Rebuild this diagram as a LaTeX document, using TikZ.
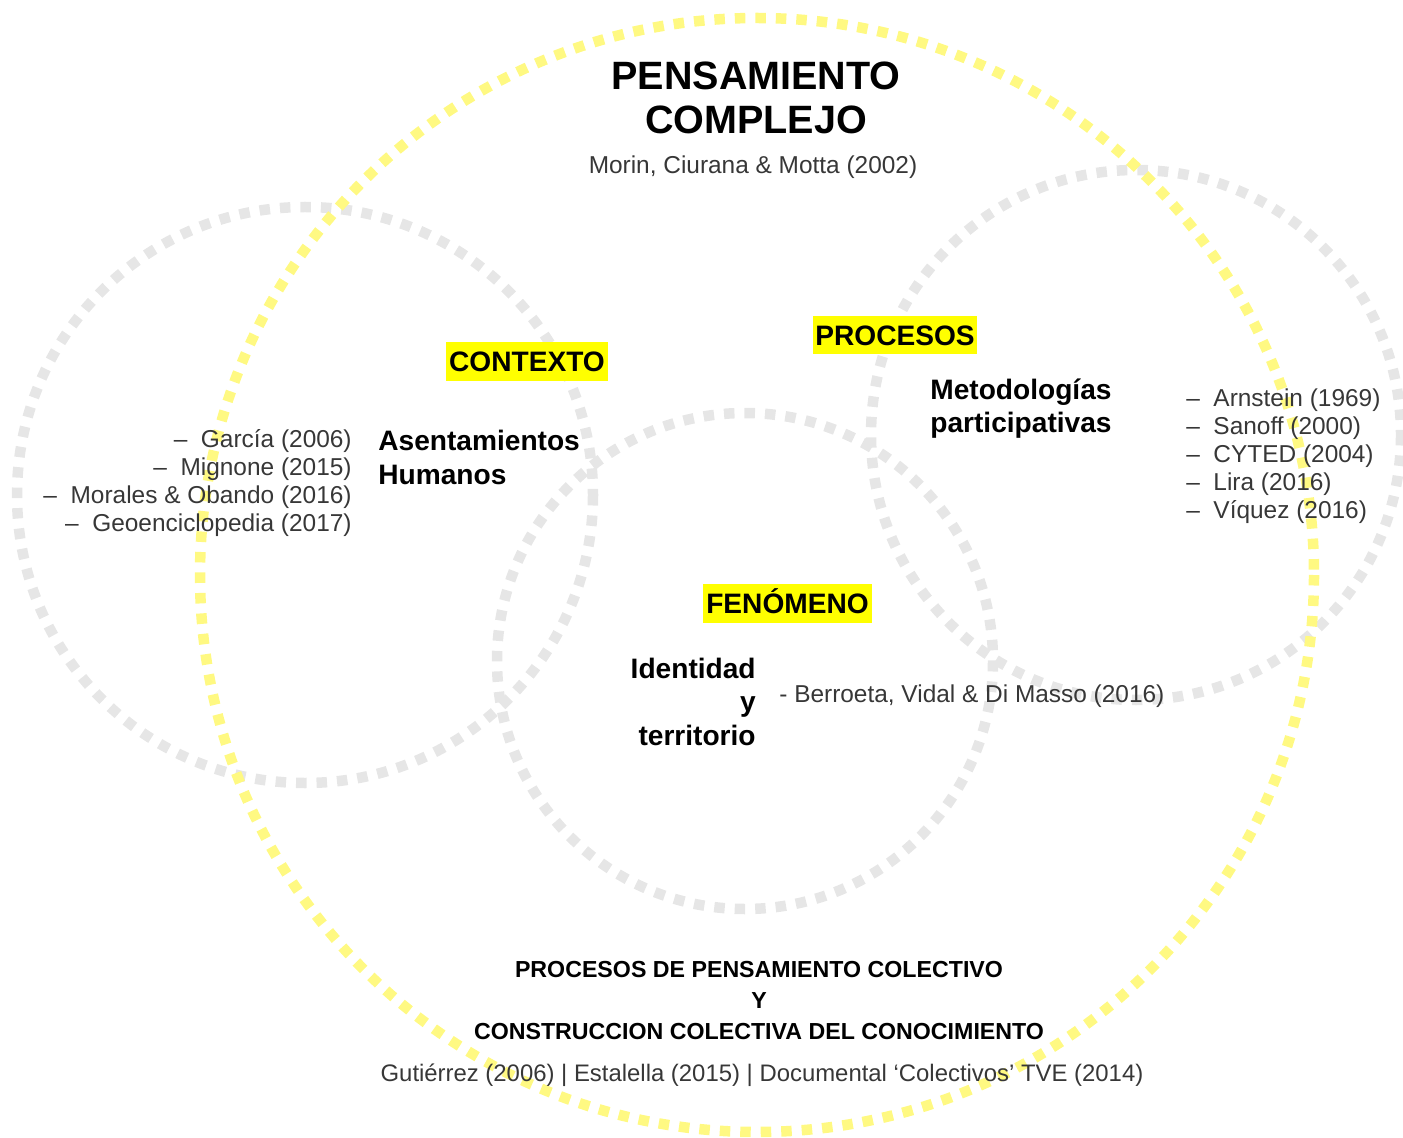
\documentclass[tikz,border=0pt]{standalone}
\usepackage{xcolor}
\usepackage{fontspec}
\setmainfont{Liberation Sans}
\usepackage{tikz}
\usetikzlibrary{positioning}
\definecolor{ringyellow}{RGB}{255, 249, 130}
\definecolor{ringgray}{RGB}{230, 230, 230}
\definecolor{tagyellow}{RGB}{255, 255, 0}
\definecolor{reftext}{RGB}{55, 55, 55}

\tikzset{
  ring/.style={line width=0.21cm, dash pattern=on 0.21cm off 0.2cm},
  tag/.style={fill=tagyellow, inner xsep=1.6pt, inner ysep=0pt, minimum height=0.78cm,
    text height=11.5pt, text depth=0pt, font=\bfseries\fontsize{16}{19}\selectfont},
  topic/.style={inner sep=0pt, font=\bfseries\fontsize{16}{18.8}\selectfont},
  reflist/.style={inner sep=0pt, text=reftext, font=\fontsize{13.9}{15.9}\selectfont}
}

\begin{document}
\begin{tikzpicture}[x=0.02cm, y=-0.02cm]
\useasboundingbox (0,0) rectangle (1403,1138);

% Gray circles: contexto, procesos, fenomeno
\draw[ring, ringgray] (305,495) circle (288);
\draw[ring, ringgray] (1136,435) circle (265);
\draw[ring, ringgray] (745,661) circle (248);

% Yellow circle round everything
\draw[ring, ringyellow] (757,575) circle (557);

% Title
\node[inner sep=0pt, align=center, anchor=base, font=\bfseries\fontsize{22.5}{25.6}\selectfont]
  (titulo) at (756,134) {PENSAMIENTO\\COMPLEJO};
\node[reflist, anchor=base] (morin) at (753,174) {Morin, Ciurana \& Motta (2002)};

% Contexto
\node[tag] (contexto) at (527,361.5) {CONTEXTO};
\node[topic, align=left, anchor=base west] (asentamientos) at (378,484) {Asentamientos\\Humanos};
\node[reflist, align=right, anchor=base east] (refsizq) at (352,531)
  {–~~García (2006)\\–~~Mignone (2015)\\–~~Morales \& Obando (2016)\\–~~Geoenciclopedia (2017)};

% Procesos
\node[tag] (procesos) at (895,335) {PROCESOS};
\node[topic, align=left, anchor=base west] (metodologias) at (930,433) {Metodologías\\participativas};
\node[reflist, align=left, anchor=base west] (refsder) at (1186,518)
  {–~~Arnstein (1969)\\–~~Sanoff (2000)\\–~~CYTED (2004)\\–~~Lira (2016)\\–~~Víquez (2016)};

% Fenomeno
\node[tag] (fenomeno) at (787.5,603.5) {FENÓMENO};
\node[topic, align=right, anchor=base east, font=\bfseries\fontsize{16}{19}\selectfont]
  (identidad) at (756,745) {Identidad\\y\\territorio};
\node[reflist, anchor=base west] (berroeta) at (779,702) {- Berroeta, Vidal \& Di Masso (2016)};

% Bottom
\node[inner sep=0pt, align=center, anchor=base, font=\bfseries\fontsize{13.2}{17.6}\selectfont]
  (colectivo) at (759,1039)
  {PROCESOS DE PENSAMIENTO COLECTIVO\\Y\\CONSTRUCCION COLECTIVA DEL CONOCIMIENTO};
\node[reflist, anchor=base, font=\fontsize{13.6}{15.9}\selectfont] (refsabajo) at (762,1081)
  {Gutiérrez (2006) | Estalella (2015) | Documental ‘Colectivos’ TVE (2014)};
\end{tikzpicture}
\end{document}
